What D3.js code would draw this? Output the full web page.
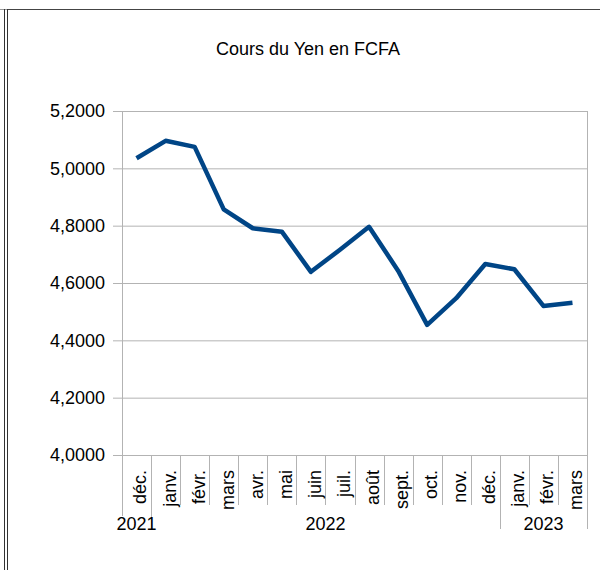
<!DOCTYPE html>
<meta charset="utf-8">
<style>
body { margin: 0; background: #fff; }
text { font-family: "Liberation Sans", Arial, sans-serif; font-size: 18px; fill: #000; }
.grid line { stroke: #b3b3b3; stroke-width: 1px; }
.grid path { display: none; }
</style>
<svg width="600" height="570"></svg>
<script src="https://d3js.org/d3.v7.min.js"></script>
<script>

var title = "Cours du Yen en FCFA";

var months = ["déc.", "janv.", "févr.", "mars", "avr.", "mai", "juin", "juil.",
              "août", "sept.", "oct.", "nov.", "déc.", "janv.", "févr.", "mars"];
var monthYears = ["2021", "2022", "2022", "2022", "2022", "2022", "2022", "2022",
                  "2022", "2022", "2022", "2022", "2022", "2023", "2023", "2023"];
var values = [5.035, 5.096, 5.075, 4.857, 4.791, 4.779, 4.639, 4.716,
              4.796, 4.643, 4.454, 4.547, 4.666, 4.648, 4.520, 4.531];
var yTicks = [4.0, 4.2, 4.4, 4.6, 4.8, 5.0, 5.2];

var svg = d3.select("svg");

var plotLeft = 122, plotRight = 587, plotTop = 111, plotBottom = 455;

var x = d3.scaleBand()
    .domain(d3.range(months.length))
    .range([plotLeft, plotRight]);

var y = d3.scaleLinear()
    .domain([4.0, 5.2])
    .range([plotBottom, plotTop]);

var fr = d3.formatLocale({decimal: ",", thousands: " ", grouping: [3], currency: ["", " €"]});
var fmt = fr.format(".4f");

// outer frame
svg.append("line").attr("x1", 0).attr("x2", 7).attr("y1", 9.5).attr("y2", 9.5).attr("stroke", "#999");
svg.append("line").attr("x1", 7).attr("x2", 600).attr("y1", 9.5).attr("y2", 9.5).attr("stroke", "#444");
svg.append("line").attr("x1", 4.5).attr("x2", 4.5).attr("y1", 9).attr("y2", 570).attr("stroke", "#333");
svg.append("line").attr("x1", 7.5).attr("x2", 7.5).attr("y1", 9).attr("y2", 570).attr("stroke", "#333");

// title
svg.append("text")
    .attr("x", 308)
    .attr("y", 55)
    .attr("text-anchor", "middle")
    .text(title);

// gridlines
svg.append("g")
    .attr("class", "grid")
    .attr("transform", "translate(" + plotLeft + ",0)")
    .call(d3.axisLeft(y).tickValues(yTicks).tickSizeInner(-(plotRight - plotLeft)).tickSizeOuter(0).tickFormat(""));

// y ticks + labels
var yAxis = svg.append("g")
    .attr("class", "grid")
    .attr("transform", "translate(" + plotLeft + ",0)")
    .call(d3.axisLeft(y).tickValues(yTicks).tickSize(9).tickPadding(8).tickFormat(fmt));
yAxis.attr("font-size", null).attr("font-family", null);
yAxis.selectAll("text")
    .style("font-size", "18px")
    .style("fill", "#000");

// plot borders
svg.append("line").attr("x1", plotLeft + 0.5).attr("x2", plotLeft + 0.5).attr("y1", plotTop).attr("y2", 516).attr("stroke", "#b3b3b3");
svg.append("line").attr("x1", plotRight + 0.5).attr("x2", plotRight + 0.5).attr("y1", plotTop).attr("y2", 529).attr("stroke", "#b3b3b3");

// category separators
var bounds = d3.range(1, months.length);
svg.append("g").selectAll("line")
    .data(bounds)
    .join("line")
    .attr("x1", function(i) { return Math.round(x(i)) + 0.5; })
    .attr("x2", function(i) { return Math.round(x(i)) + 0.5; })
    .attr("y1", plotBottom)
    .attr("y2", function(i) { return monthYears[i] !== monthYears[i - 1] ? 529 : 505; })
    .attr("stroke", "#b3b3b3");

// month labels
svg.append("g").selectAll("text")
    .data(months)
    .join("text")
    .attr("transform", function(d, i) { return "translate(" + (x(i) + x.bandwidth() / 2) + ",470) rotate(-90)"; })
    .attr("text-anchor", "end")
    .attr("dy", "0.55em")
    .text(function(d) { return d; });

// year labels
var yearGroups = d3.groups(d3.range(months.length), function(i) { return monthYears[i]; });
svg.append("g").selectAll("text")
    .data(yearGroups)
    .join("text")
    .attr("x", function(g) {
        var a = x(g[1][0]), b = x(g[1][g[1].length - 1]) + x.bandwidth();
        return (a + b) / 2;
    })
    .attr("y", 530)
    .attr("text-anchor", "middle")
    .text(function(g) { return g[0]; });

// series line
var line = d3.line()
    .x(function(d, i) { return x(i) + x.bandwidth() / 2; })
    .y(function(d) { return y(d); });

svg.append("path")
    .datum(values)
    .attr("d", line)
    .attr("fill", "none")
    .attr("stroke", "#004586")
    .attr("stroke-width", 4.5)
    .attr("stroke-linejoin", "round");

</script>
